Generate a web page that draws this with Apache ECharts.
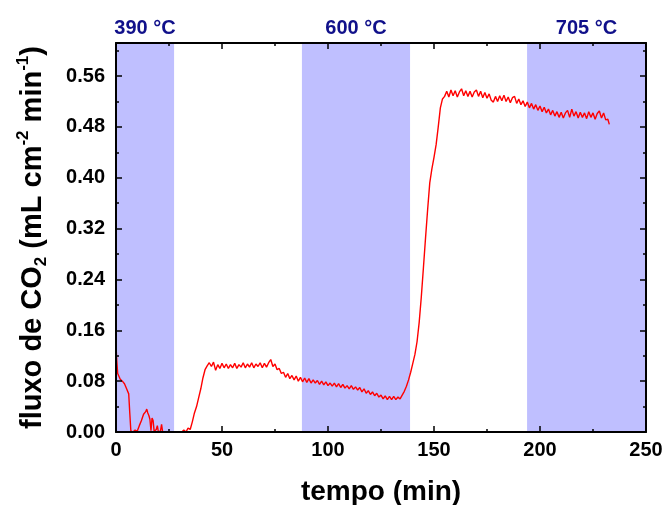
<!DOCTYPE html>
<html>
<head>
<meta charset="utf-8">
<script src="https://cdn.jsdelivr.net/npm/echarts@6/dist/echarts.min.js"></script>
<style>html,body{margin:0;padding:0;background:#fff}#c{width:664px;height:505px}</style>
</head>
<body>
<div id="c"></div>
<script>
// ---- data ----
const tempo = [0,0.3,0.8,2,3,4,5,6,6.5,7,8,9,10,11,12,13,14,14.5,15,15.5,16,16.5,17,17.5,18,19,19.5,20,21,21.5,22,23,24,25,26,27,28,29,30,31,32,33,34,35,36,37,38,39,40,41,42,43,44,45,46,47,48,49,50,51,52,53,54,55,56,57,58,59,60,61,62,63,64,65,66,67,68,69,70,71,72,73,74,75,76,77,78,79,80,81,82,83,84,85,86,87,88,89,90,91,92,93,94,95,96,97,98,99,100,101,102,103,104,105,106,107,108,109,110,111,112,113,114,115,116,117,118,119,120,121,122,123,124,125,126,127,128,129,130,131,132,133,134,135,136,137,138,139,140,141,142,143,144,145,146,147,148,149,150,151,152,153,154,155,156,157,158,159,160,161,162,163,164,165,166,167,168,169,170,171,172,173,174,175,176,177,178,179,180,181,182,183,184,185,186,187,188,189,190,191,192,193,194,195,196,197,198,199,200,201,202,203,204,205,206,207,208,209,210,211,212,213,214,215,216,217,218,219,220,221,222,223,224,225,226,227,228,229,230,231,232,232.7];
const fluxo = [0.140,0.115,0.092,0.083,0.080,0.076,0.068,0.060,0.030,0.002,0.000,0.003,0.001,0.010,0.018,0.028,0.032,0.036,0.030,0.026,0.020,0.002,0.022,0.018,0.001,0.004,0.010,0.000,0.002,0.012,0.000,0.000,0.000,0.000,0.000,0.000,0.000,0.000,0.000,0.000,0.003,0.000,0.006,0.004,0.016,0.030,0.040,0.054,0.068,0.085,0.098,
0.104,0.109,0.103,0.110,0.097,0.106,0.100,0.108,0.101,0.107,0.100,0.106,0.101,0.108,0.100,0.106,0.102,0.109,0.101,0.107,0.102,0.109,0.101,0.107,0.103,0.109,0.101,0.108,0.102,0.109,0.114,0.103,0.107,0.098,
0.100,0.092,0.094,0.086,0.092,0.084,0.089,0.082,0.088,0.080,0.086,0.079,0.085,0.078,0.084,0.077,0.082,0.077,0.081,0.075,0.080,0.074,0.079,0.073,0.077,0.072,0.077,0.071,0.076,0.070,0.075,0.069,0.073,0.068,0.073,0.067,0.071,0.066,0.070,0.063,0.068,0.061,0.065,0.059,0.063,0.057,0.061,0.055,0.058,0.052,0.057,0.051,0.056,0.051,0.056,0.051,0.055,0.052,0.058,
0.064,0.072,0.082,0.094,0.108,0.122,0.142,0.172,0.212,0.258,0.305,0.350,0.392,0.414,0.432,0.452,0.480,0.510,0.524,
0.528,0.536,0.527,0.538,0.529,0.537,0.527,0.535,0.540,0.529,0.537,0.528,0.536,0.527,0.535,0.538,0.528,0.536,0.526,0.534,0.525,0.532,0.522,0.519,0.528,0.520,0.529,0.521,0.530,0.520,0.527,0.518,0.526,0.528,0.517,0.524,0.515,0.521,0.512,0.519,0.510,0.517,0.508,0.515,0.506,0.513,0.504,0.511,0.502,0.508,0.499,0.506,0.497,0.504,0.495,0.503,0.494,0.502,0.506,0.495,0.508,0.497,0.504,0.494,0.503,0.495,0.502,0.493,0.504,0.495,0.502,0.492,0.501,0.505,0.494,0.502,0.491,0.492,0.484];

const zonaInicio = [0, 87.7, 193.9];
const zonaFim = [27.4, 138.7, 250];
const zonaRotulo = ['390 °C', '600 °C', '705 °C'];

const xTicks = [0, 50, 100, 150, 200, 250];
const yTicks = ['0.00','0.08','0.16','0.24','0.32','0.40','0.48','0.56'];

// ---- chart ----
const font = 'Arial, "Liberation Sans", sans-serif';
const chart = echarts.init(document.getElementById('c'), null, {renderer: 'canvas'});
const yMax = 0.612;
const serie = tempo.map((t, i) => [t, fluxo[i]]);
const areas = zonaInicio.map((s, i) => [
  {xAxis: s, name: zonaRotulo[i]},
  {xAxis: zonaFim[i]}
]);

const lineStyle = {color: '#000', width: 2};
function yAxisDef(pos, major, labels) {
  return {
    type: 'value', position: pos, offset: 0, min: 0, max: yMax, z: 10,
    interval: major ? 0.08 : 0.04,
    axisLine: {show: major, onZero: false, lineStyle: lineStyle},
    axisTick: {show: true, inside: true, length: major ? 6 : 3, lineStyle: {color: '#000', width: 1.5}},
    axisLabel: {
      show: labels, margin: 11, fontFamily: font, fontWeight: 'bold', fontSize: 20, color: '#000',
      formatter: v => { const k = Math.round(v / 0.08); return Math.abs(v - k * 0.08) < 1e-6 ? yTicks[k] : ''; }
    },
    splitLine: {show: false},
    name: labels ? '{a|fluxo de CO}{sub|2}{a| (mL cm}{sup|-2}{a| min}{sup|-1}{a|)}' : '',
    nameLocation: 'middle', nameGap: 66, nameRotate: 90,
    nameTextStyle: {
      rich: {
        a: {fontFamily: font, fontWeight: 'bold', fontSize: 29, color: '#000', lineHeight: 35},
        sub: {fontFamily: font, fontWeight: 'bold', fontSize: 17, color: '#000', lineHeight: 17, verticalAlign: 'bottom'},
        sup: {fontFamily: font, fontWeight: 'bold', fontSize: 17, color: '#000', lineHeight: 17, verticalAlign: 'top'}
      }
    }
  };
}

chart.setOption({
  animation: false,
  grid: {left: 116, right: 18, top: 43, bottom: 73, containLabel: false, outerBoundsMode: 'none'},
  xAxis: [
    {
      type: 'value', position: 'bottom', min: 0, max: 250, interval: 50, z: 10,
      axisLine: {show: true, onZero: false, lineStyle: lineStyle},
      axisTick: {inside: true, length: 6, lineStyle: {color: '#000', width: 1.5}},
      minorTick: {show: true, splitNumber: 2, length: 3, lineStyle: {color: '#000', width: 1.5}},
      axisLabel: {margin: 8, fontFamily: font, fontWeight: 'bold', fontSize: 20, color: '#000',
        formatter: v => { const i = xTicks.indexOf(v); return i >= 0 ? String(xTicks[i]) : ''; }},
      splitLine: {show: false},
      name: 'tempo (min)', nameLocation: 'middle', nameGap: 46,
      nameTextStyle: {fontFamily: font, fontWeight: 'bold', fontSize: 28, color: '#000'}
    },
    {
      type: 'value', position: 'top', min: 0, max: 250, interval: 50, z: 10,
      axisLine: {show: true, onZero: false, lineStyle: lineStyle},
      axisTick: {inside: true, length: 6, lineStyle: {color: '#000', width: 1.5}},
      minorTick: {show: true, splitNumber: 2, length: 3, lineStyle: {color: '#000', width: 1.5}},
      axisLabel: {show: false}, splitLine: {show: false}
    }
  ],
  yAxis: [
    yAxisDef('left', true, true),
    yAxisDef('left', false, false),
    yAxisDef('right', true, false),
    yAxisDef('right', false, false)
  ],
  series: [
    {
      type: 'line', xAxisIndex: 0, yAxisIndex: 0, data: [], z: 1, silent: true,
      markArea: {
        silent: true,
        itemStyle: {color: '#bfbfff', opacity: 1},
        label: {show: true, position: 'top', distance: 5, color: '#10108a', fontFamily: font, fontWeight: 'bold', fontSize: 20},
        data: areas
      }
    },
    {
      type: 'line', xAxisIndex: 0, yAxisIndex: 0, data: serie, z: 5,
      showSymbol: false, symbol: 'none', clip: true,
      lineStyle: {color: '#ff0000', width: 1.4}
    }
  ]
});
</script>
</body>
</html>
